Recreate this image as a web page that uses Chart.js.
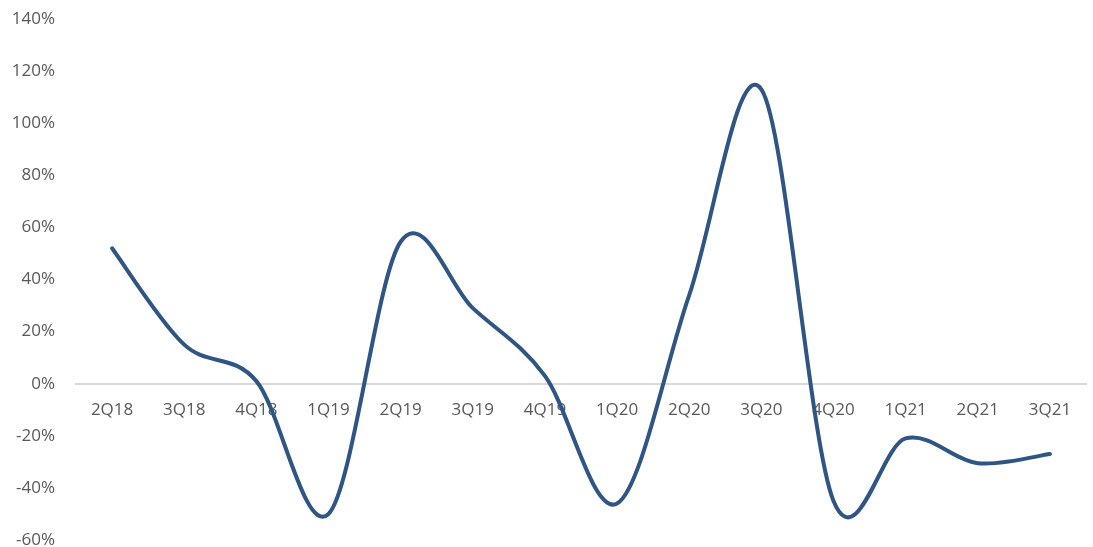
<!DOCTYPE html>
<html>
<head>
<meta charset="utf-8">
<script src="https://cdn.jsdelivr.net/npm/chart.js@4.4.1/dist/chart.umd.min.js"></script>
<style>
  html, body { margin: 0; padding: 0; background: #ffffff; }
  #wrap { width: 1093px; height: 547px; position: relative; }
</style>
</head>
<body>
<div id="wrap"><canvas id="chart"></canvas></div>
<script>
// Quarterly growth rate, in percent
const quarters = ['2Q18', '3Q18', '4Q18', '1Q19', '2Q19', '3Q19', '4Q19',
                  '1Q20', '2Q20', '3Q20', '4Q20', '1Q21', '2Q21', '3Q21'];
const growth = [52, 15, 1, -50, 54.5, 29, 3, -46, 34, 113, -45, -21, -30.5, -27];
const yTicks = { min: -60, max: 140, step: 20 };

const FONT = '"Open Sans", "Noto Sans", sans-serif';
const TEXT = '#595959';

// Smooth the line with uniform Catmull-Rom control points (arm = 1/6 of the
// neighbour chord), the classic spreadsheet-style smoothing.
const catmullRom = {
  id: 'catmullRom',
  beforeDatasetDraw(chart, args) {
    const line = args.meta.dataset;
    if (!line) return;
    line.updateControlPoints(chart.chartArea);
    const pts = line.points;
    const n = pts.length;
    for (let i = 0; i < n; i++) {
      const prev = pts[Math.max(0, i - 1)];
      const next = pts[Math.min(n - 1, i + 1)];
      const tx = (next.x - prev.x) / 6;
      const ty = (next.y - prev.y) / 6;
      pts[i].cp1x = pts[i].x - tx;
      pts[i].cp1y = pts[i].y - ty;
      pts[i].cp2x = pts[i].x + tx;
      pts[i].cp2y = pts[i].y + ty;
    }
    delete line._path;
  }
};

new Chart(document.getElementById('chart'), {
  type: 'line',
  data: {
    labels: quarters,
    datasets: [{
      data: growth,
      borderColor: '#2F5584',
      borderWidth: 4,
      borderCapStyle: 'round',
      borderJoinStyle: 'round',
      tension: 0.4,
      capBezierPoints: false,
      pointRadius: 0,
      fill: false
    }]
  },
  plugins: [catmullRom],
  options: {
    responsive: true,
    maintainAspectRatio: false,
    animation: false,
    layout: { padding: { top: 19, bottom: 7, left: 0, right: 7 } },
    plugins: { legend: { display: false }, tooltip: { enabled: false } },
    scales: {
      x: {
        position: { y: 0 },
        offset: true,
        afterFit: (s) => { s.height = 0; s.paddingLeft = 0; s.paddingRight = 0; },
        grid: { display: false, drawTicks: false },
        border: { display: true, color: '#D9D9D9', width: 2 },
        ticks: { color: TEXT, font: { family: FONT, size: 17 }, padding: 16, maxRotation: 0, autoSkip: false }
      },
      y: {
        min: yTicks.min,
        max: yTicks.max,
        afterFit: (s) => { s.width = 76; s.paddingTop = 0; s.paddingBottom = 0; },
        grid: { display: false, drawTicks: false },
        border: { display: false },
        ticks: {
          stepSize: yTicks.step,
          color: TEXT,
          padding: 21,
          font: { family: FONT, size: 17 },
          callback: (v) => v + '%'
        }
      }
    }
  }
});
</script>
</body>
</html>
